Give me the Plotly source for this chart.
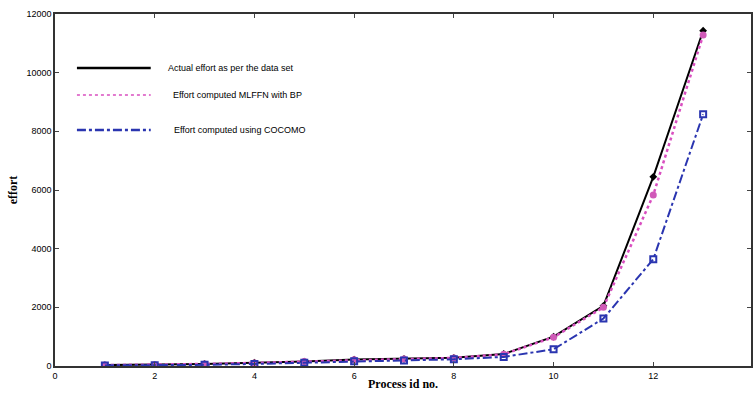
import plotly.graph_objects as go

process_id = [1, 2, 3, 4, 5, 6, 7, 8, 9, 10, 11, 12, 13]
actual = [30, 40, 70, 110, 150, 220, 240, 280, 410, 1000, 2050, 6450, 11430]
mlffn = [30, 40, 70, 105, 150, 215, 235, 275, 400, 980, 2000, 5830, 11280]
cocomo = [20, 25, 40, 70, 110, 160, 190, 230, 310, 570, 1620, 3640, 8580]

legend_names = ["Actual effort as per the data set",
                "Effort computed MLFFN with BP",
                "Effort computed using COCOMO"]
x_ticks = [0, 2, 4, 6, 8, 10, 12, 14]
y_ticks = [0, 2000, 4000, 6000, 8000, 10000, 12000]
y_tick_labels = ["0", "2000", "4000", "6000", "8000", "10000", "12000"]

fig = go.Figure()
fig.add_trace(go.Scatter(x=process_id, y=actual, mode="lines+markers",
                         line=dict(color="black", width=2),
                         marker=dict(symbol="diamond", size=6, color="black"),
                         showlegend=False))
fig.add_trace(go.Scatter(x=process_id, y=mlffn, mode="lines+markers",
                         line=dict(color="#d94fc0", width=2.5, dash="dot"),
                         marker=dict(symbol="circle", size=7, color="#d05ab8"),
                         showlegend=False))
fig.add_trace(go.Scatter(x=process_id, y=cocomo, mode="lines+markers",
                         line=dict(color="#2a35b0", width=2, dash="dashdot"),
                         marker=dict(symbol="square-open", size=6, color="#2a35b0",
                                     line=dict(width=2)),
                         showlegend=False))

# custom legend inside the plot
leg_styles = [dict(color="black", width=2.5),
              dict(color="#d94fc0", width=1.5, dash="dot"),
              dict(color="#2a35b0", width=2.5, dash="dashdot")]
leg_y = [68, 95, 130]
leg_tx = [166, 171, 172]
W, H = 753, 397
L, R, T, B = 55, 0, 14, 31
pw, ph = W - L - R, H - T - B
for name, st, yy, tx in zip(legend_names, leg_styles, leg_y, leg_tx):
    yp = 1 - (yy - T) / ph
    fig.add_shape(type="line", xref="paper", yref="paper",
                  x0=(77 - L) / pw, x1=(151 - L) / pw, y0=yp, y1=yp, line=st)
    fig.add_annotation(xref="paper", yref="paper", x=(tx - L) / pw, y=yp,
                       text=name, showarrow=False, xanchor="left", yanchor="middle",
                       font=dict(family="Arial, Liberation Sans", size=9, color="black"))

fig.update_layout(
    width=W, height=H,
    margin=dict(l=L, r=R, t=T, b=B),
    paper_bgcolor="white", plot_bgcolor="white",
    font=dict(family="Arial, Liberation Sans", size=9, color="black"),
)
fig.update_xaxes(range=[0, pw / 50.0], tickvals=x_ticks, ticks="inside", ticklen=4,
                 showline=True, linecolor="#333", linewidth=1.5, mirror="ticks",
                 showgrid=False, zeroline=False,
                 title=dict(text="<b>Process id no.</b>", standoff=0,
                            font=dict(family="Times New Roman, Liberation Serif", size=12)))
fig.update_yaxes(range=[0, 12000], tickvals=y_ticks, ticktext=y_tick_labels,
                 ticks="inside", ticklen=4,
                 showline=True, linecolor="#333", linewidth=1.5, mirror="ticks",
                 showgrid=False, zeroline=False,
                 title=dict(text="<b>effort</b>", standoff=6,
                            font=dict(family="Times New Roman, Liberation Serif", size=12)))

fig.write_html("out.html", config={"displayModeBar": False},
               post_script="document.body.style.margin='0';document.body.style.overflow='hidden';")
